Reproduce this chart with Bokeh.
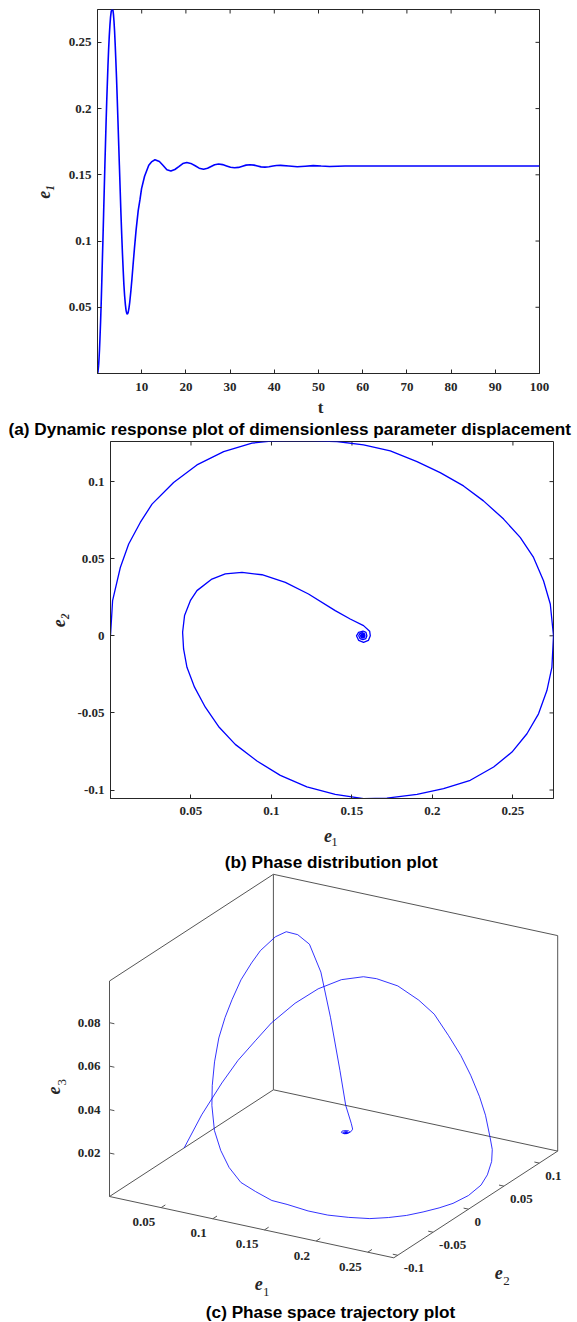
import numpy as np
from bokeh.plotting import figure
from bokeh.models import Range1d, FixedTicker, Label
from bokeh.embed import file_html
from bokeh.resources import INLINE
from bokeh.core.properties import value

# ---------------- data: (a) e1 versus t ----------------
t_a = [0, 0.11, 0.25, 0.35, 0.46, 0.55, 0.70, 0.84, 0.98, 1.12, 1.22, 1.38, 1.54, 1.67, 1.81,
       1.95, 2.08, 2.23, 2.36, 2.51, 2.66, 2.81, 2.95, 3.10, 3.30, 3.50, 3.61, 3.73, 3.86, 3.99,
       4.13, 4.30, 4.47, 4.63, 4.81, 4.95, 5.12, 5.29, 5.47, 5.64, 5.82, 5.97, 6.13, 6.30, 6.47,
       6.62, 6.75, 6.93, 7.13, 7.29, 7.57, 7.79, 8.04, 8.35, 8.74, 9.21, 9.60, 9.97, 10.65, 11.6,
       12.3, 13.0, 14.0, 14.8, 15.7, 16.6, 17.5, 18.4, 19.3, 20.2, 21.1, 22.1, 23.0, 24.0, 24.9,
       25.7, 26.5, 27.4, 28.3, 29.2, 30.1, 31.0, 31.9, 32.8, 33.6, 34.5, 35.4, 36.2, 37.0, 37.9,
       38.8, 39.7, 40.5, 41.4, 43.3, 45.2, 47.0, 48.8, 50.6, 52.5, 54.3, 56.0, 58.0, 60.0, 65.0,
       70.0, 80.0, 90.0, 100.0]
e1_a = [0, 0.0013, 0.0061, 0.0113, 0.0185, 0.0258, 0.0392, 0.0537, 0.0703, 0.0879, 0.0997, 0.1200,
        0.1407, 0.1572, 0.1738, 0.1904, 0.2048, 0.2193, 0.2317, 0.2442, 0.2545, 0.2628, 0.2690,
        0.2732, 0.2752, 0.2742, 0.2711, 0.2659, 0.2587, 0.2494, 0.2380, 0.2235, 0.2069, 0.1904,
        0.1717, 0.1572, 0.1396, 0.1220, 0.1055, 0.0910, 0.0775, 0.0671, 0.0589, 0.0522, 0.0475,
        0.0454, 0.0448, 0.0460, 0.0496, 0.0537, 0.0630, 0.0713, 0.0817, 0.0941, 0.1086, 0.1230,
        0.1310, 0.1396, 0.1489, 0.1572, 0.1600, 0.1614, 0.1600, 0.1572, 0.1538, 0.1528, 0.1540,
        0.1562, 0.1585, 0.1593, 0.1586, 0.1568, 0.1550, 0.1542, 0.1549, 0.1563, 0.1576, 0.1581,
        0.1577, 0.1567, 0.1557, 0.1553, 0.1556, 0.1565, 0.1573, 0.1576, 0.1573, 0.1567, 0.1560,
        0.1558, 0.1561, 0.1566, 0.1570, 0.1571, 0.1566, 0.1561, 0.1565, 0.1569, 0.1566, 0.1563,
        0.1565, 0.1567, 0.1566, 0.1566, 0.1566, 0.1566, 0.1566, 0.1566, 0.1566]

# ---------------- data: trajectory (e1, e2, e3) for (b) and (c) ----------------
traj_e1 = [0.0, 0.0013, 0.0061, 0.0113, 0.0185, 0.0258, 0.0392, 0.0537, 0.0703, 0.0879, 0.0997,
           0.1200, 0.1407, 0.1572, 0.1738, 0.1904, 0.2048, 0.2193, 0.2317, 0.2442, 0.2545, 0.2628,
           0.2690, 0.2732, 0.2752, 0.2742, 0.2711, 0.2659, 0.2587, 0.2494, 0.2380, 0.2235, 0.2069,
           0.1904, 0.1717, 0.1572, 0.1396, 0.1220, 0.1055, 0.0910, 0.0775, 0.0671, 0.0589, 0.0522,
           0.0475, 0.0454, 0.0448, 0.0460, 0.0496, 0.0537, 0.0630, 0.0713, 0.0817, 0.0941, 0.1086,
           0.1230, 0.1396, 0.1489, 0.1572, 0.1610, 0.1614,
           0.1602, 0.1572, 0.1542, 0.1528, 0.1541, 0.1569, 0.1587, 0.1593,
           0.1586, 0.1568, 0.1550, 0.1542, 0.1549, 0.1567, 0.1577, 0.1581,
           0.1577, 0.1567, 0.1557, 0.1553, 0.1557, 0.1567, 0.1573, 0.1576,
           0.1573, 0.1567, 0.1561, 0.1558, 0.1561, 0.1567, 0.1570, 0.1571,
           0.1569, 0.1565, 0.1563, 0.1565, 0.1567, 0.1567]
traj_e2 = [0.0, 0.0228, 0.0443, 0.0595, 0.0735, 0.0854, 0.0994, 0.1108, 0.1194, 0.1249, 0.1263,
           0.1266, 0.1260, 0.1238, 0.1199, 0.1129, 0.1058, 0.0972, 0.0875, 0.0757, 0.0638, 0.0508,
           0.0357, 0.0206, 0.0, -0.0204, -0.0355, -0.0506, -0.0635, -0.0754, -0.0851, -0.0937,
           -0.0991, -0.1028, -0.1052, -0.1056, -0.1028, -0.0980, -0.0905, -0.0812, -0.0704, -0.0588,
           -0.0463, -0.0333, -0.0204, -0.0085, 0.0023, 0.0131, 0.0228, 0.0293, 0.0368, 0.0401,
           0.0411, 0.0396, 0.0346, 0.0271, 0.0163, 0.0109, 0.0066, 0.0030, 0.0,
           -0.0030, -0.0042, -0.0030, 0.0, 0.0022, 0.0031, 0.0022, 0.0,
           -0.0018, -0.0025, -0.0018, 0.0, 0.0014, 0.0020, 0.0014, 0.0,
           -0.0010, -0.0014, -0.0010, 0.0, 0.0008, 0.0011, 0.0008, 0.0,
           -0.0006, -0.0008, -0.0006, 0.0, 0.0005, 0.0007, 0.0005, 0.0,
           -0.0003, -0.0003, 0.0, 0.0002, 0.0002, 0.0]
traj_e3 = [0.0, 0.0105, 0.0211, 0.0288, 0.0356, 0.0420, 0.0495, 0.0552, 0.0593, 0.0613, 0.0613,
           0.0600, 0.0557, 0.0514, 0.0440, 0.0381, 0.0320, 0.0254, 0.0202, 0.0138, 0.0118, 0.0099,
           0.0076, 0.0065, 0.0063, 0.0069, 0.0077, 0.0085, 0.0089, 0.0095, 0.0099, 0.0108, 0.0113,
           0.0123, 0.0139, 0.0143, 0.0160, 0.0174, 0.0210, 0.0254, 0.0309, 0.0389, 0.0446, 0.0520,
           0.0598, 0.0665, 0.0724, 0.0793, 0.0854, 0.0901, 0.0958, 0.0983, 0.0978, 0.0950, 0.0847,
           0.0670, 0.0465, 0.0325, 0.0260, 0.0245, 0.0240,
           0.0238, 0.0236, 0.0235, 0.0234, 0.0233, 0.0233, 0.0232, 0.0232,
           0.0232, 0.0231, 0.0231, 0.0231, 0.0231, 0.0231, 0.0231, 0.0231,
           0.0230, 0.0230, 0.0230, 0.0230, 0.0230, 0.0230, 0.0230, 0.0230,
           0.0230, 0.0230, 0.0230, 0.0230, 0.0230, 0.0230, 0.0230, 0.0230,
           0.0230, 0.0230, 0.0230, 0.0230, 0.0230, 0.0230]

# ticks
a_xticks = [10, 20, 30, 40, 50, 60, 70, 80, 90, 100]
a_xlabels = ["10", "20", "30", "40", "50", "60", "70", "80", "90", "100"]
a_yticks = [0.05, 0.1, 0.15, 0.2, 0.25]
a_ylabels = ["0.05", "0.1", "0.15", "0.2", "0.25"]
b_xticks = [0.05, 0.1, 0.15, 0.2, 0.25]
b_xlabels = ["0.05", "0.1", "0.15", "0.2", "0.25"]
b_yticks = [-0.1, -0.05, 0, 0.05, 0.1]
b_ylabels = ["-0.1", "-0.05", "0", "0.05", "0.1"]
c_e1ticks = [0.05, 0.1, 0.15, 0.2, 0.25]
c_e1labels = ["0.05", "0.1", "0.15", "0.2", "0.25"]
c_e2ticks = [-0.1, -0.05, 0, 0.05, 0.1]
c_e2labels = ["-0.1", "-0.05", "0", "0.05", "0.1"]
c_e3ticks = [0.02, 0.04, 0.06, 0.08]
c_e3labels = ["0.02", "0.04", "0.06", "0.08"]

titles = ["(a) Dynamic response plot of dimensionless parameter displacement",
          "(b) Phase distribution plot",
          "(c) Phase space trajectory plot"]

# ---------------- styling ----------------
AX = "#262626"
SERIF = "Liberation Serif"
SANS = "Liberation Sans"
TICK_SIZE = "13px"
TITLE_SIZE = "17.2px"
TICK_LEN = 4


def style_axis(ax, ticks, labels, standoff):
    ax.ticker = FixedTicker(ticks=list(ticks))
    ax.major_label_overrides = {k: v for k, v in zip(ticks, labels)}
    ax.major_tick_in = TICK_LEN
    ax.major_tick_out = 0
    ax.minor_tick_line_color = None
    ax.axis_line_color = AX
    ax.axis_line_width = 1
    ax.major_tick_line_color = AX
    ax.major_label_text_font = SERIF
    ax.major_label_text_font_style = "bold"
    ax.major_label_text_color = AX
    ax.major_label_text_font_size = TICK_SIZE
    ax.major_label_standoff = standoff
    ax.axis_label_text_font = SERIF
    ax.axis_label_text_color = AX


def base_fig(fw, fh, left, right, top, bottom, xr, yr):
    p = figure(frame_width=fw, frame_height=fh, min_border_left=left, min_border_right=right,
               min_border_top=top, min_border_bottom=bottom, x_range=xr, y_range=yr,
               output_backend="svg", toolbar_location=None)
    p.grid.visible = False
    p.outline_line_color = AX
    p.outline_line_width = 1
    p.background_fill_color = "white"
    p.border_fill_color = "white"
    return p


def canvas_fig(h):
    p = figure(frame_width=577, frame_height=h, min_border=0, x_range=Range1d(0, 577),
               y_range=Range1d(h, 0), x_axis_type=None, y_axis_type=None,
               output_backend="svg", toolbar_location=None)
    p.grid.visible = False
    p.outline_line_color = None
    p.background_fill_color = "white"
    p.border_fill_color = "white"
    return p


def mirror_ticks(p, xticks, yticks, fw, fh):
    xr, yr = p.x_range, p.y_range
    dy = (yr.end - yr.start) / fh * TICK_LEN
    dx = (xr.end - xr.start) / fw * TICK_LEN
    p.segment(x0=list(xticks), y0=[yr.end] * len(xticks), x1=list(xticks),
              y1=[yr.end - dy] * len(xticks), line_color=AX, line_width=1)
    p.segment(x0=[xr.end] * len(yticks), y0=list(yticks), x1=[xr.end - dx] * len(yticks),
              y1=list(yticks), line_color=AX, line_width=1)


def add_label(p, x, y, text, font, style, size, angle=0.0, color="black", align="center"):
    p.add_layout(Label(x=x, y=y, text=text, text_font=font, text_font_style=style,
                       text_font_size=size, text_align=align, text_baseline="middle",
                       angle=angle, text_color=color))


# ---------------- (a) ----------------
fa = base_fig(442, 364, 97, 38, 9, 26, Range1d(0, 100), Range1d(0, 0.2748))
style_axis(fa.below[0], a_xticks, a_xlabels, 9)
style_axis(fa.left[0], a_yticks, a_ylabels, 6)
fa.left[0].axis_label = "e\u2081"
fa.left[0].axis_label_text_font_style = "bold italic"
fa.left[0].axis_label_text_font_size = "18px"
fa.left[0].axis_label_standoff = 12
mirror_ticks(fa, a_xticks, a_yticks, 442, 364)
fa.line(t_a, e1_a, line_color="#0000ff", line_width=1.6)

# caption strip under (a): x-label and title
cap_a = canvas_fig(42)
add_label(cap_a, 320, 7.7, "t", SERIF, "bold", "17px", 0.0, AX)
add_label(cap_a, 8, 29.3, titles[0], SANS, "bold", TITLE_SIZE, align="left")

# ---------------- (b) ----------------
fb = base_fig(443, 357, 110, 24, 0, 24, Range1d(0, 0.2752), Range1d(-0.1055, 0.126))
style_axis(fb.below[0], b_xticks, b_xlabels, 8)
style_axis(fb.left[0], b_yticks, b_ylabels, 6)
fb.left[0].axis_label = "e\u2082"
fb.left[0].axis_label_text_font_style = "bold italic"
fb.left[0].axis_label_text_font_size = "18px"
fb.left[0].axis_label_standoff = 5
mirror_ticks(fb, b_xticks, b_yticks, 443, 357)
fb.line(traj_e1, traj_e2, line_color="#0000ff", line_width=1.3)

# ---------------- (c) 3-D view (+ caption of b on top) ----------------
fc = canvas_fig(500)
add_label(fc, 327.4, 13.0, "e", SERIF, "bold italic", "18px", 0.0, AX)
add_label(fc, 334.0, 19.7, "1", SERIF, "normal", "13px", 0.0, AX)
add_label(fc, 330.8, 39.7, titles[1], SANS, "bold", TITLE_SIZE)

E1R = (0.0, 0.2752)
E2R = (-0.1055, 0.126)
E3R = (0.0, 0.0992)
VIEW_O = np.array([109.0, 374.0])
VIEW_V1 = np.array([284.3, 61.3])
VIEW_V2 = np.array([163.9, -106.7])
VIEW_V3 = np.array([0.0, -215.5])


def proj(a, b, c):
    n1 = (np.asarray(a, float) - E1R[0]) / (E1R[1] - E1R[0])
    n2 = (np.asarray(b, float) - E2R[0]) / (E2R[1] - E2R[0])
    n3 = (np.asarray(c, float) - E3R[0]) / (E3R[1] - E3R[0])
    X = VIEW_O[0] + n1 * VIEW_V1[0] + n2 * VIEW_V2[0] + n3 * VIEW_V3[0]
    Y = VIEW_O[1] + n1 * VIEW_V1[1] + n2 * VIEW_V2[1] + n3 * VIEW_V3[1]
    return X, Y


lo1, hi1 = E1R
lo2, hi2 = E2R
lo3, hi3 = E3R
edges = [
    ((lo1, lo2, lo3), (hi1, lo2, lo3)),
    ((hi1, lo2, lo3), (hi1, hi2, lo3)),
    ((lo1, hi2, lo3), (hi1, hi2, lo3)),
    ((lo1, lo2, lo3), (lo1, hi2, lo3)),
    ((lo1, lo2, lo3), (lo1, lo2, hi3)),
    ((lo1, hi2, lo3), (lo1, hi2, hi3)),
    ((lo1, lo2, hi3), (lo1, hi2, hi3)),
    ((hi1, hi2, lo3), (hi1, hi2, hi3)),
    ((lo1, hi2, hi3), (hi1, hi2, hi3)),
]
ex, ey = [], []
for p0, p1 in edges:
    x0, y0 = proj(*p0)
    x1, y1 = proj(*p1)
    ex.append([float(x0), float(x1)])
    ey.append([float(y0), float(y1)])
fc.multi_line(ex, ey, line_color="#555555", line_width=1)

u1 = VIEW_V1 / np.linalg.norm(VIEW_V1)
u2 = VIEW_V2 / np.linalg.norm(VIEW_V2)
TL = 5.0
tx, ty = [], []
bx1, by1 = proj(c_e1ticks, [lo2] * 5, [lo3] * 5)
for x, y in zip(bx1, by1):
    tx.append([x, x + TL * u2[0]]); ty.append([y, y + TL * u2[1]])
bx2, by2 = proj([hi1] * 5, c_e2ticks, [lo3] * 5)
for x, y in zip(bx2, by2):
    tx.append([x, x - TL * u1[0]]); ty.append([y, y - TL * u1[1]])
bx3, by3 = proj([lo1] * 4, [lo2] * 4, c_e3ticks)
for x, y in zip(bx3, by3):
    tx.append([x, x + TL * u1[0]]); ty.append([y, y + TL * u1[1]])
fc.multi_line(tx, ty, line_color="#555555", line_width=1)

tfont = value(SERIF)
fc.text(bx1 - 6, by1 + 14.5, text=c_e1labels, text_font=tfont, text_font_style="bold",
        text_font_size=TICK_SIZE, text_color=AX, text_align="right", text_baseline="middle")
fc.text(bx2 + 6, by2 + 13, text=c_e2labels, text_font=tfont, text_font_style="bold",
        text_font_size=TICK_SIZE, text_color=AX, text_align="left", text_baseline="middle")
fc.text(bx3 - 9, by3, text=c_e3labels, text_font=tfont, text_font_style="bold",
        text_font_size=TICK_SIZE, text_color=AX, text_align="right", text_baseline="middle")

cx, cy = proj(traj_e1, traj_e2, traj_e3)
fc.line(cx, cy, line_color="#0000ff", line_width=1.0, line_alpha=0.8)

add_label(fc, 258.3, 461.3, "e", SERIF, "bold italic", "18px", 0.0, AX)
add_label(fc, 265.7, 469.7, "1", SERIF, "normal", "13px", 0.0, AX)
add_label(fc, 498.3, 449.7, "e", SERIF, "bold italic", "18px", 0.0, AX)
add_label(fc, 506.0, 458.0, "2", SERIF, "normal", "13px", 0.0, AX)
add_label(fc, 53.3, 268.0, "e", SERIF, "bold italic", "18px", np.pi / 2, AX)
add_label(fc, 61.7, 259.7, "3", SERIF, "normal", "13px", np.pi / 2, AX)
add_label(fc, 330.0, 489.7, titles[2], SANS, "bold", TITLE_SIZE)

open("out.html", "w").write(file_html([fa, cap_a, fb, fc], INLINE, "plot"))
